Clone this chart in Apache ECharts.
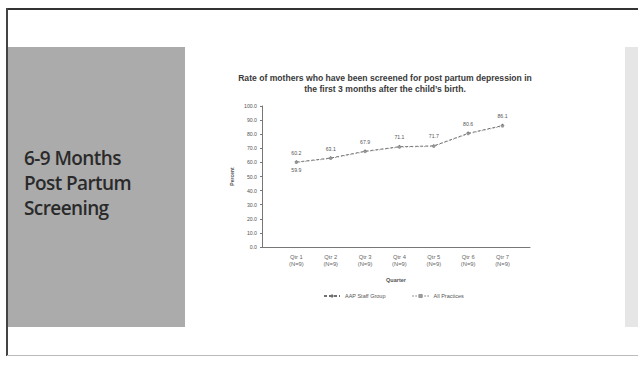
<!DOCTYPE html>
<html lang="en">
<head>
<meta charset="UTF-8">
<script src="https://cdn.jsdelivr.net/npm/echarts@6/dist/echarts.min.js"></script>
<style>
  html, body { margin: 0; padding: 0; background: #fff; }
  #slide { position: relative; width: 638px; height: 365px; overflow: hidden; background: #fff; }
  #frameTop { position: absolute; left: 7px; top: 8px; width: 640px; height: 2px; background: #333; }
  #frameLeft { position: absolute; left: 6px; top: 8px; width: 2px; height: 348px; background: #444; }
  #frameBottom { position: absolute; left: 7px; top: 355px; width: 640px; height: 1px; background: #bbb; }
  #sidePanel {
    position: absolute; left: 8px; top: 47px; width: 177px; height: 280px;
    background: #ababab;
  }
  #sidePanel div {
    position: absolute; left: 16px; top: 99px;
    font-family: "Open Sans", "DejaVu Sans", sans-serif; font-size: 19px; font-weight: 600; line-height: 25px;
    color: #2a2a2a; letter-spacing: -0.6px;
  }
  #rightPanel { position: absolute; left: 625px; top: 47px; width: 14px; height: 280px; background: #e6e6e6; }
  #container { position: absolute; left: 0; top: 0; width: 638px; height: 365px; }
</style>
</head>
<body>
<div id="slide">
  <div id="frameTop"></div>
  <div id="frameLeft"></div>
  <div id="frameBottom"></div>
  <div id="sidePanel"><div>6-9 Months<br>Post Partum<br>Screening</div></div>
  <div id="rightPanel"></div>
  <div id="container"></div>
</div>
<script>
  // quarters (x positions 1..7)
  var quarters = ['Qtr 1\n(N=9)', 'Qtr 2\n(N=9)', 'Qtr 3\n(N=9)', 'Qtr 4\n(N=9)', 'Qtr 5\n(N=9)', 'Qtr 6\n(N=9)', 'Qtr 7\n(N=9)'];
  var aapStaff = [60.2, 63.1, 67.9, 71.1, 71.7, 80.6, 86.1];
  var allPractices = [59.9, 62.8, 67.5, 70.8, 71.4, 80.2, 85.7];

  var toPoints = function (vals) {
    var res = [];
    for (var i = 0; i < vals.length; i++) {
      res.push([i + 1, vals[i]]);
    }
    return res;
  };

  var myChart = echarts.init(document.getElementById('container'), null, { renderer: 'svg' });
  var option = {
    backgroundColor: 'transparent',
    animation: false,
    title: {
      text: 'Rate of mothers who have been screened for post partum depression in\nthe first 3 months after the child\u2019s birth.',
      left: 380,
      textAlign: 'center',
      top: 68,
      textStyle: { fontSize: 8.6, fontWeight: 'bold', color: '#3a3a3a', lineHeight: 10.5, fontFamily: 'Liberation Sans' }
    },
    legend: {
      bottom: 61,
      left: 318,
      itemWidth: 16,
      itemHeight: 5,
      itemGap: 26,
      textStyle: { fontSize: 5.5, color: '#555', fontFamily: 'Liberation Sans' },
      data: ['AAP Staff Group', 'All Practices']
    },
    grid: { left: 262, right: 108, top: 106, bottom: 118 },
    xAxis: {
      type: 'value',
      min: 0,
      max: 7.8,
      interval: 1,
      name: 'Quarter',
      nameLocation: 'middle',
      nameGap: 30,
      nameTextStyle: { fontSize: 5.5, color: '#555', fontWeight: 'bold' },
      axisLine: { show: true, lineStyle: { color: '#777', width: 1 } },
      axisTick: { show: false },
      splitLine: { show: false },
      axisLabel: {
        fontSize: 5.8,
        color: '#666',
        lineHeight: 7.5,
        margin: 6,
        formatter: function (v) {
          return quarters[v - 1] || '';
        }
      }
    },
    yAxis: {
      type: 'value',
      min: 0,
      max: 100,
      interval: 10,
      name: 'Percent',
      nameLocation: 'middle',
      nameGap: 28,
      nameRotate: 90,
      nameTextStyle: { fontSize: 5, color: '#555', fontWeight: 'bold' },
      axisLine: { show: true, lineStyle: { color: '#777' } },
      axisTick: { show: true, length: 2, lineStyle: { color: '#777' } },
      splitLine: { show: false },
      axisLabel: {
        fontSize: 5.2,
        color: '#555',
        margin: 5,
        formatter: function (v) { return v.toFixed(1); }
      }
    },
    series: [
      {
        name: 'AAP Staff Group',
        type: 'line',
        data: toPoints(aapStaff),
        symbol: 'diamond',
        symbolSize: 4,
        lineStyle: { color: '#707070', width: 1, type: [3, 2] },
        itemStyle: { color: '#707070' },
        label: {
          show: true,
          position: 'top',
          distance: 5,
          fontSize: 5.2,
          color: '#555',
          formatter: function (p) { return p.value[1].toFixed(1); }
        }
      },
      {
        name: 'All Practices',
        type: 'line',
        data: toPoints(allPractices),
        symbol: 'rect',
        symbolSize: 2.5,
        lineStyle: { color: '#999', width: 1, type: [1, 2] },
        itemStyle: { color: '#999' },
        label: {
          show: true,
          position: 'bottom',
          distance: 4,
          fontSize: 5.2,
          color: '#555',
          formatter: function (p) { return p.dataIndex === 0 ? p.value[1].toFixed(1) : ''; }
        }
      }
    ]
  };
  myChart.setOption(option);
</script>
</body>
</html>
